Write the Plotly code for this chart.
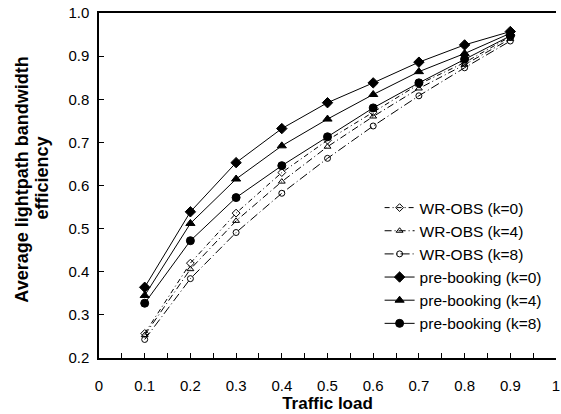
import plotly.graph_objects as go

traffic_load = [0.1, 0.2, 0.3, 0.4, 0.5, 0.6, 0.7, 0.8, 0.9]

wr_obs_k0 = [0.257, 0.420, 0.536, 0.630, 0.705, 0.770, 0.835, 0.885, 0.945]
wr_obs_k4 = [0.253, 0.406, 0.518, 0.609, 0.690, 0.760, 0.825, 0.880, 0.940]
wr_obs_k8 = [0.243, 0.384, 0.491, 0.582, 0.663, 0.738, 0.808, 0.873, 0.935]
pre_k0 = [0.364, 0.539, 0.653, 0.732, 0.792, 0.838, 0.886, 0.926, 0.957]
pre_k4 = [0.345, 0.512, 0.615, 0.692, 0.754, 0.811, 0.864, 0.906, 0.953]
pre_k8 = [0.327, 0.472, 0.572, 0.646, 0.713, 0.780, 0.838, 0.893, 0.947]

x_ticks = [0, 0.1, 0.2, 0.3, 0.4, 0.5, 0.6, 0.7, 0.8, 0.9, 1.0]
x_tick_labels = ["0", "0.1", "0.2", "0.3", "0.4", "0.5", "0.6", "0.7", "0.8", "0.9", "1"]
y_ticks = [0.2, 0.3, 0.4, 0.5, 0.6, 0.7, 0.8, 0.9, 1.0]
y_tick_labels = ["0.2", "0.3", "0.4", "0.5", "0.6", "0.7", "0.8", "0.9", "1.0"]

series = [
    ("WR-OBS (k=0)", wr_obs_k0, "diamond-open", "5px,3px,1px,3px", 6),
    ("WR-OBS (k=4)", wr_obs_k4, "triangle-up-open", "7px,3px,1px,3px", 6),
    ("WR-OBS (k=8)", wr_obs_k8, "circle-open", "9px,3px,1px,3px", 6),
    ("pre-booking (k=0)", pre_k0, "diamond", "solid", 8),
    ("pre-booking (k=4)", pre_k4, "triangle-up", "solid", 8),
    ("pre-booking (k=8)", pre_k8, "circle", "solid", 8),
]

FONT = "Liberation Sans, Arial, sans-serif"

fig = go.Figure()
for name, vals, sym, dash, msize in series:
    fig.add_trace(go.Scatter(
        x=traffic_load, y=vals, name=name, mode="lines+markers",
        line=dict(color="black", width=1, dash=dash),
        marker=dict(symbol=sym, size=msize, color="black",
                    line=dict(color="black", width=1)),
    ))

fig.update_layout(
    width=561, height=414,
    margin=dict(l=99, r=1, t=13, b=56),
    paper_bgcolor="white", plot_bgcolor="white",
    font=dict(family=FONT, size=15, color="black"),
    showlegend=True,
    legend=dict(x=0.614, y=0.484, xanchor="left", yanchor="top",
                bgcolor="rgba(0,0,0,0)", font=dict(size=15.5, family=FONT),
                itemwidth=30, tracegroupgap=0),
    xaxis=dict(range=[0, 1], tickvals=x_ticks, ticktext=x_tick_labels,
               showgrid=False, zeroline=False, showline=True, linecolor="black",
               linewidth=1.5, mirror=True, ticks="inside", ticklen=5,
               tickcolor="black", ticklabelstandoff=13,
               ticklabeloverflow="allow",
               minor=dict(ticks="inside", dtick=0.05, tick0=0, ticklen=5,
                          tickcolor="black"),
               tickfont=dict(size=15),
               title=dict(text="<b>Traffic load</b>", font=dict(size=17), standoff=4)),
    yaxis=dict(range=[0.2, 1.0], tickvals=y_ticks, ticktext=y_tick_labels,
               showgrid=False, zeroline=False, showline=True, linecolor="black",
               linewidth=1.5, ticks="inside", ticklen=5, tickcolor="black",
               ticklabelstandoff=5, tickfont=dict(size=15)),
    annotations=[
        dict(text="<b>Average lightpath bandwidth</b>",
             xref="paper", yref="paper", x=(21 - 99) / 461, y=(358 - 180) / 345,
             xanchor="center", yanchor="middle", textangle=-90, showarrow=False,
             font=dict(size=18, family=FONT)),
        dict(text="<b>efficiency</b>",
             xref="paper", yref="paper", x=(41 - 99) / 461, y=(358 - 178) / 345,
             xanchor="center", yanchor="middle", textangle=-90, showarrow=False,
             font=dict(size=18, family=FONT)),
    ],
)

fig.write_html("out.html", config={"displayModeBar": False},
               post_script="document.body.style.margin='0';document.body.style.padding='0';")
